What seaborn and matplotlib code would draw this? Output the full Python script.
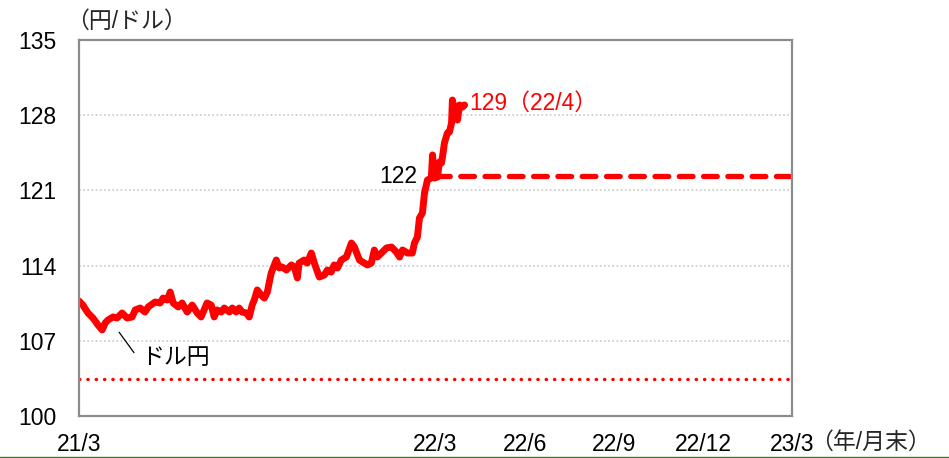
import matplotlib
matplotlib.use("Agg")
import matplotlib.pyplot as plt
import seaborn as sns
import pandas as pd
from matplotlib.lines import Line2D

# ---- data (months after end of 2021/3, USD/JPY) ----
months = [0.00, 0.13, 0.30, 0.47, 0.64, 0.78, 0.88, 0.98, 1.15, 1.28, 1.45, 1.62, 1.79, 1.89,
          2.06, 2.22, 2.33, 2.56, 2.73, 2.83, 2.97, 3.07, 3.17, 3.34, 3.47, 3.64, 3.81, 3.98,
          4.11, 4.21, 4.31, 4.45, 4.55, 4.65, 4.79, 4.89, 5.06, 5.16, 5.29, 5.39, 5.49, 5.63,
          5.73, 5.83, 5.90, 6.00, 6.13, 6.24, 6.34, 6.40, 6.47, 6.64, 6.74, 6.84, 6.98, 7.15,
          7.25, 7.35, 7.41, 7.58, 7.68, 7.82, 7.92, 8.09, 8.26, 8.36, 8.49, 8.59, 8.70, 8.83,
          9.00, 9.17, 9.27, 9.44, 9.54, 9.71, 9.84, 9.94, 10.04, 10.18, 10.35, 10.52, 10.68,
          10.79, 10.89, 11.06, 11.22, 11.29, 11.39, 11.46, 11.56, 11.63, 11.73, 11.86, 11.90,
          11.97, 12.07, 12.13, 12.20, 12.23, 12.30, 12.40, 12.47, 12.54, 12.57, 12.64, 12.71,
          12.74, 12.81, 12.91, 12.98]
usdjpy = [110.70, 110.33, 109.59, 109.12, 108.47, 108.01, 108.66, 108.94, 109.22, 109.12, 109.59,
          109.12, 109.22, 109.87, 110.05, 109.68, 110.15, 110.61, 110.52, 110.98, 110.80, 111.54,
          110.52, 110.15, 110.52, 109.68, 110.33, 109.59, 109.22, 109.87, 110.52, 110.33, 109.22,
          109.87, 109.68, 110.05, 109.68, 110.05, 109.68, 110.05, 109.68, 109.59, 109.22, 110.33,
          110.80, 111.73, 111.26, 110.98, 111.54, 112.38, 113.31, 114.52, 113.78, 113.87, 113.59,
          114.06, 113.87, 112.85, 114.24, 114.52, 114.24, 115.17, 114.24, 112.94, 113.13, 113.59,
          113.40, 114.06, 113.78, 114.52, 114.80, 116.10, 115.73, 114.52, 114.34, 114.06, 114.24,
          115.45, 114.80, 115.17, 115.64, 115.73, 115.27, 114.80, 115.45, 115.17, 115.17, 116.10,
          116.66, 118.43, 118.90, 120.76, 121.97, 122.15, 124.30, 122.15, 122.25, 123.64, 123.55,
          124.02, 125.41, 126.34, 126.44, 127.27, 129.41, 128.48, 128.76, 127.55, 128.95, 128.76,
          128.95]

forecast_months = [12, 24]
forecast_value = [122.3, 122.3]
lower_months = [0, 24]
lower_value = [103.4, 103.4]

xtick_pos = [0, 12, 15, 18, 21, 24]
xtick_labels = ["21/3", "22/3", "22/6", "22/9", "22/12", "23/3"]
ytick_pos = [100, 107, 114, 121, 128, 135]

sns.set_style("white")
plt.rcParams['font.family'] = ['Liberation Sans', 'Noto Sans CJK JP', 'DejaVu Sans']

FS = 16.5
fig = plt.figure(figsize=(9.49, 4.58), dpi=100)
ax = fig.add_axes([79/949, 1-416/458, (792-79)/949, (416-40)/458])

RED = "#ff0000"
df = pd.DataFrame({"m": months, "v": usdjpy})
sns.lineplot(data=df, x="m", y="v", ax=ax, color=RED, lw=5.0, solid_joinstyle="round",
             solid_capstyle="round", estimator=None, sort=False)
dff = pd.DataFrame({"m": forecast_months, "v": forecast_value})
sns.lineplot(data=dff, x="m", y="v", ax=ax, color=RED, lw=3.8, linestyle=(0, (2.6, 2.0)),
             dash_capstyle="round", estimator=None)
dfl = pd.DataFrame({"m": lower_months, "v": lower_value})
sns.lineplot(data=dfl, x="m", y="v", ax=ax, color=RED, lw=2.4, linestyle=(0, (0.1, 2.4)),
             dash_capstyle="round", estimator=None)

ax.set_xlim(0, 24)
ax.set_ylim(100, 135)
ax.set_xticks(xtick_pos)
ax.set_xticklabels(xtick_labels)
ax.set_yticks(ytick_pos)
ax.set_xlabel("")
ax.set_ylabel("")
ax.tick_params(axis="both", length=0, labelsize=FS, colors="black")
ax.tick_params(axis="x", pad=12)
ax.tick_params(axis="y", pad=16)
for y in ytick_pos[1:-1]:
    ax.axhline(y, color="#c8c8c8", lw=1.2, ls=(0, (1, 1.5)), zorder=0)
for s in ax.spines.values():
    s.set_color("#8c8c8c")
    s.set_linewidth(1.6)
    s.set_visible(True)

ax.text(13.15, 129.1, "129（22/4）", color=RED, fontsize=FS, va="center", ha="left")
ax.text(11.4, 122.3, "122", color="black", fontsize=FS, va="center", ha="right")
ax.text(2.08, 105.4, "ドル円", color="black", fontsize=FS, va="center", ha="left")
ax.plot([1.35, 1.85], [107.8, 105.9], color="black", lw=0.9)

fig.text(66/949, 1-21/458, "（円/ドル）", fontsize=FS, va="center", ha="left")
fig.text(810/949, 1-442/458, "（年/月末）", fontsize=FS, va="center", ha="left")
fig.add_artist(Line2D([0, 1], [0.6/458, 0.6/458], color="#2e7d32", lw=1.0))

fig.savefig("out.png", dpi=100)
